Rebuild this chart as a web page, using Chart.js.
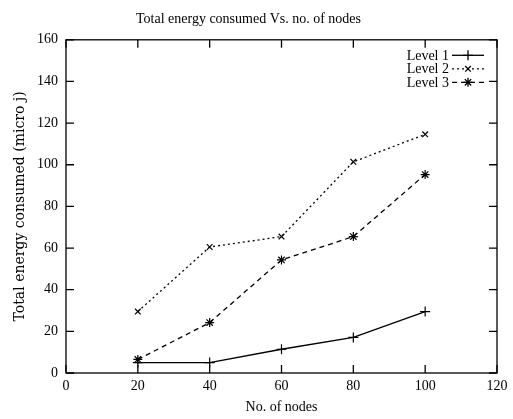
<!DOCTYPE html>
<html>
<head>
<meta charset="utf-8">
<script src="https://cdn.jsdelivr.net/npm/chart.js@4/dist/chart.umd.min.js"></script>
<style>
  html,body{margin:0;padding:0;background:#fff;}
  #wrap{width:513px;height:419px;}
</style>
</head>
<body>
<div id="wrap"><canvas id="c" width="513" height="419"></canvas></div>
<script>
// node counts on x, energy (micro j) for each level
const nodes=[20,40,60,80,100];
const level1=[5,5,11.4,17.1,29.5];
const level2=[29.5,60.5,65.5,101.4,114.6];
const level3=[6.5,24.2,54.3,65.5,95.3];
const seriesNames=["Level 1","Level 2","Level 3"];
const xTicks=[0,20,40,60,80,100,120];
const yTicks=[0,20,40,60,80,100,120,140,160];

const FONT="'Liberation Serif','Times New Roman',serif";
const pts=(ys)=>nodes.map((x,i)=>({x,y:ys[i]}));

// gnuplot-ish frame: box + inward ticks on all four sides
const frame={
  id:"frame",
  afterDraw(chart){
    const a=chart.chartArea, c=chart.ctx, sx=chart.scales.x, sy=chart.scales.y, L=8;
    c.save(); c.strokeStyle="#000"; c.lineWidth=1.3; c.setLineDash([]);
    c.strokeRect(a.left,a.top,a.right-a.left,a.bottom-a.top);
    c.beginPath();
    sx.ticks.forEach(t=>{ const p=sx.getPixelForValue(t.value);
      c.moveTo(p,a.bottom); c.lineTo(p,a.bottom-L); c.moveTo(p,a.top); c.lineTo(p,a.top+L); });
    sy.ticks.forEach(t=>{ const p=sy.getPixelForValue(t.value);
      c.moveTo(a.left,p); c.lineTo(a.left+L,p); c.moveTo(a.right,p); c.lineTo(a.right-L,p); });
    c.stroke(); c.restore();
  }
};

// key in the top right: label text, then a line sample with its marker
const key={
  id:"key",
  afterDraw(chart){
    const a=chart.chartArea, c=chart.ctx;
    c.save(); c.font="14px "+FONT; c.fillStyle="#000"; c.textAlign="right"; c.textBaseline="middle";
    chart.data.datasets.forEach((d,i)=>{
      const y=a.top+15.5+i*13.5, tx=a.right-48, x0=a.right-45, x1=a.right-13;
      c.fillText(d.label,tx,y+1);
      c.strokeStyle="#000"; c.lineWidth=d.borderWidth; c.setLineDash(d.borderDash||[]);
      c.beginPath(); c.moveTo(x0,y); c.lineTo(x1,y); c.stroke(); c.setLineDash([]);
      Chart.helpers.drawPoint(c,{pointStyle:d.pointStyle,radius:d.pointRadius,borderWidth:1.2},(x0+x1)/2,y);
    });
    c.restore();
  }
};

function ds(label,ys,dash,style,r){
  return {label,data:pts(ys),borderColor:"#000",backgroundColor:"#000",borderWidth:1.3,
    borderDash:dash,pointStyle:style,pointRadius:r,pointBorderWidth:1.2,pointBorderColor:"#000",tension:0};
}

new Chart(document.getElementById("c").getContext("2d"),{
  type:"line",
  data:{datasets:[
    ds(seriesNames[0],level1,[],"cross",5),
    ds(seriesNames[1],level2,[2,3],"crossRot",4),
    ds(seriesNames[2],level3,[5,4],"star",4.5)
  ]},
  options:{
    animation:false,responsive:false,maintainAspectRatio:false,
    layout:{padding:{left:0,right:16,top:0,bottom:0}},
    plugins:{
      legend:{display:false},tooltip:{enabled:false},
      title:{display:true,text:"Total energy consumed Vs. no. of nodes",color:"#000",
        font:{family:FONT,size:14,weight:"normal"},padding:{top:11,bottom:12}}
    },
    scales:{
      x:{type:"linear",min:0,max:120,
        afterBuildTicks:s=>{s.ticks=xTicks.map(v=>({value:v}));},
        afterFit:s=>{s.height=46;},
        grid:{display:false,drawTicks:false},border:{display:false},
        ticks:{color:"#000",padding:5,font:{family:FONT,size:14}},
        title:{display:true,text:"No. of nodes",color:"#000",font:{family:FONT,size:14},padding:{top:0,bottom:3}}},
      y:{type:"linear",min:0,max:160,
        afterBuildTicks:s=>{s.ticks=yTicks.map(v=>({value:v}));},
        afterFit:s=>{s.width=66;},
        grid:{display:false,drawTicks:false},border:{display:false},
        ticks:{color:"#000",padding:8,font:{family:FONT,size:14}},
        title:{display:true,text:"Total energy consumed (micro j)",color:"#000",
          font:{family:"'DejaVu Serif',serif",size:14},padding:{top:12,bottom:0}}}
    }
  },
  plugins:[frame,key]
});
</script>
</body>
</html>
